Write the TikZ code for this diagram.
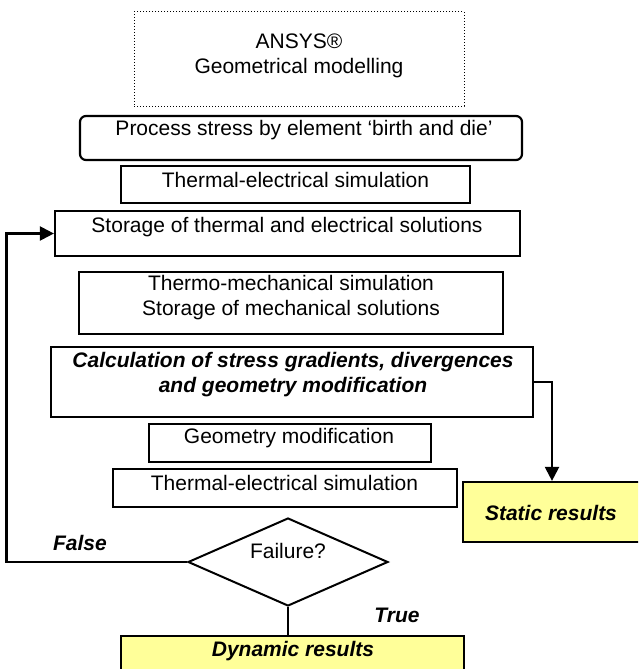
\documentclass[tikz,border=0pt]{standalone}
\usepackage{fontspec}
\setmainfont{Liberation Sans}
\usetikzlibrary{shapes.geometric,arrows.meta}
\definecolor{resyellow}{HTML}{FFFF99}
\begin{document}
\begin{tikzpicture}[x=1pt,y=-1pt,
  box/.style={draw, line width=2.2pt, inner sep=0pt},
  resbox/.style={box, fill=resyellow},
  txt/.style={inner sep=0pt, align=center, font=\fontsize{21}{25}\selectfont},
  btxt/.style={inner sep=0pt, align=center, font=\fontsize{21}{25}\selectfont\bfseries\itshape},
  conn/.style={line width=2.2pt},
  arr/.style={conn, -{Triangle[length=14pt,width=14pt]}}]
\useasboundingbox (0,0) rectangle (638,669);
\clip (0,0) rectangle (638,669);
% boxes
\node[draw, dotted, line width=1pt, minimum width=330pt, minimum height=94pt] (ansys) at (299,59) {};
\node[box, rounded corners=6pt, minimum width=442pt, minimum height=44pt] (proc) at (301,138) {};
\node[box, minimum width=349pt, minimum height=37pt] (therm1) at (295.5,184.5) {};
\node[box, minimum width=465pt, minimum height=45pt] (stor) at (287.5,233.5) {};
\node[box, minimum width=424pt, minimum height=62pt] (tmech) at (291,303) {};
\node[box, minimum width=482pt, minimum height=70pt] (calc) at (292,382) {};
\node[box, minimum width=282pt, minimum height=38pt] (geom) at (290,443) {};
\node[box, minimum width=344pt, minimum height=38pt] (therm2) at (285,488) {};
\node[resbox, minimum width=178pt, minimum height=60pt] (static) at (552,512) {};
\node[resbox, minimum width=343pt, minimum height=44pt] (dyn) at (292.5,658) {};
\node[draw, diamond, line width=2pt, inner sep=0pt, minimum width=200pt, minimum height=88pt] (dia) at (288,562) {};
% texts
\node[txt] (tansys) at (299,55.5) {ANSYS®\\Geometrical modelling};
\node[txt] (tproc) at (304,130) {Process stress by element ‘birth and die’};
\node[txt] (tth1) at (295.5,180) {Thermal-electrical simulation};
\node[txt] (tstor) at (287,227) {Storage of thermal and electrical solutions};
\node[txt] (ttmech) at (291,298) {Thermo-mechanical simulation\\Storage of mechanical solutions};
\node[btxt] (tcalc) at (293,374.5) {Calculation of stress gradients, divergences\\and geometry modification};
\node[txt] (tgeom) at (289,438) {Geometry modification};
\node[txt] (tth2) at (284.5,483) {Thermal-electrical simulation};
\node[btxt] (tstatic) at (551,513) {Static results};
\node[btxt] (tdyn) at (293,651) {Dynamic results};
\node[txt] (tfail) at (288,551) {Failure?};
\node[btxt] (lfalse) at (80,543) {False};
\node[btxt] (ltrue) at (397,615) {True};
% connectors
\coordinate (loopc) at (6.5,562);
\draw[arr] (calc.east) -| (static.north);
\draw[conn] (dia.south) -- (dia.south |- dyn.north);
\draw[arr] (dia.west) -- (loopc) |- (stor.west);
\end{tikzpicture}
\end{document}
